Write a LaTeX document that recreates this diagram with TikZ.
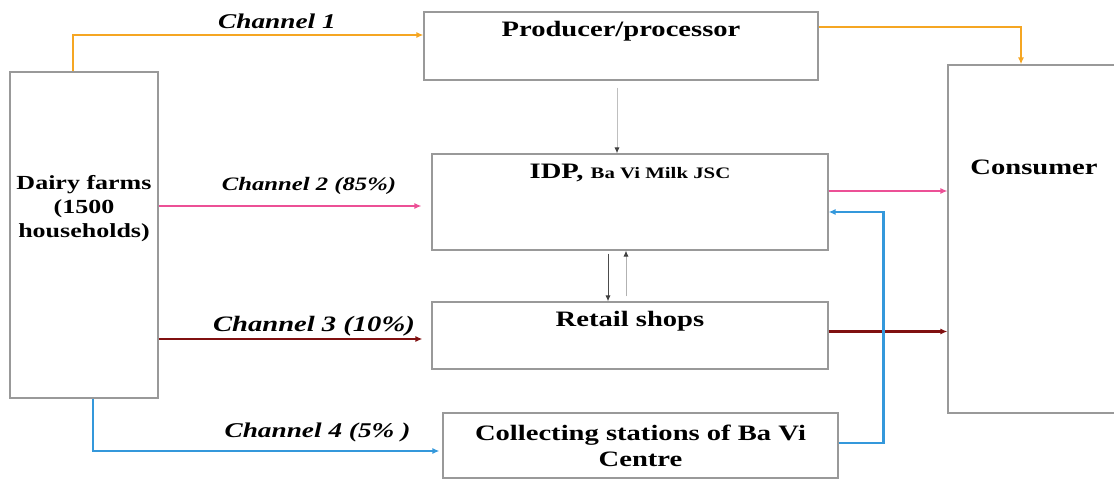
\documentclass[tikz,border=0pt]{standalone}
\usepackage{fontspec}
\setmainfont{Liberation Serif}[FakeStretch=1.3]
\usepackage{tikz}
\usetikzlibrary{positioning,arrows.meta,calc}
\definecolor{chorange}{RGB}{245,166,35}
\definecolor{chpink}{RGB}{236,80,150}
\definecolor{chred}{RGB}{128,16,16}
\definecolor{chblue}{RGB}{52,152,219}

\begin{document}
\begin{tikzpicture}[
  x=0.5pt,y=-0.5pt,
  box/.style={draw=black!40,line width=0.6pt,inner sep=0pt,font=\fontsize{11}{13}\selectfont\bfseries},
  chan/.style={font=\fontsize{#1}{13}\selectfont\bfseries\itshape,inner sep=0pt,anchor=base},
  arr/.style={-{Latex[length=3.5pt,width=3pt]}},
  gry/.style={-{Latex[length=3pt,width=2.6pt,color=black!75]},line width=0.5pt},
]
  \useasboundingbox (0,0) rectangle (1114,480);
  \node[box,minimum width=74pt,minimum height=163pt,
    label={[font=\fontsize{10}{12}\selectfont\bfseries,align=center,yshift=13pt]center:Dairy farms\\(1500\\households)}] (farm) at (84,235) {};
  \node[box,minimum width=197pt,text height=12.5pt,text depth=21.5pt] (prod) at (621,46) {Producer/processor};
  \node[box,minimum width=198pt,text height=12.5pt,text depth=35.5pt] (idp) at (630,202)
    {IDP, {\fontsize{8}{10}\selectfont Ba Vi Milk JSC}};
  \node[box,minimum width=198pt,text height=12.5pt,text depth=21pt] (retail) at (630,335.5) {Retail shops};
  \node[box,align=center,minimum width=197.5pt,minimum height=32.5pt] (coll) at (640.5,445.5)
    {Collecting stations of Ba Vi\\Centre};
  \node[box,minimum width=94pt,text height=55pt,text depth=119pt] (cons) at (1042,239) {\hspace*{-8pt}Consumer};

  \node[chan=10.5] (lab1) at (277,29) {Channel 1};
  \node[chan=9.5] (lab2) at (309,191) {Channel 2 (85\%)};
  \node[chan=11] (lab3) at (314,332) {Channel 3 (10\%)};
  \node[chan=10.5] (lab4) at (317.5,438) {Channel 4 (5\% )};

  \draw[arr,chorange,line width=1.1pt] ($(farm.north)+(-11,0)$) |- ($(prod.west)+(0,-11)$);
  \draw[arr,chorange,line width=1.1pt] ($(prod.east)+(0,-19)$) -| ($(cons.north)+(-21,0)$);
  \draw[gry,black!25] ($(prod.south)+(-4,7)$) -- ($(idp.north)+(-13,0)$);
  \draw[arr,chpink,line width=0.6pt,shorten >=5pt] ($(farm.east)+(0,-29)$) coordinate (p2) -- (p2 -| idp.west);
  \draw[arr,chpink,line width=0.6pt] ($(idp.east)+(0,-11)$) coordinate (p5) -- (p5 -| cons.west);
  \draw[arr,chred,line width=1.1pt,shorten >=4.5pt] ($(farm.east)+(0,104)$) coordinate (p3) -- (p3 -| retail.west);
  \draw[arr,chred,line width=1.1pt] ($(retail.east)+(0,-4)$) coordinate (p6) -- (p6 -| cons.west);
  \draw[arr,chblue,line width=1.3pt,shorten >=1.5pt] ($(farm.south)+(9,0)$) |- ($(coll.west)+(0,5.5)$);
  \draw[arr,chblue,line width=1.3pt] ($(coll.east)+(0,-2.5)$) -| ($(idp.east)+(55,10)$) -- ($(idp.east)+(0,10)$);
  \draw[gry,black!70] ($(idp.south)+(-22,3)$) -- ($(retail.north)+(-22,0)$);
  \draw[gry,black!30] ($(retail.north)+(-4,-5)$) -- ($(idp.south)+(-4,0)$);
\end{tikzpicture}
\end{document}
